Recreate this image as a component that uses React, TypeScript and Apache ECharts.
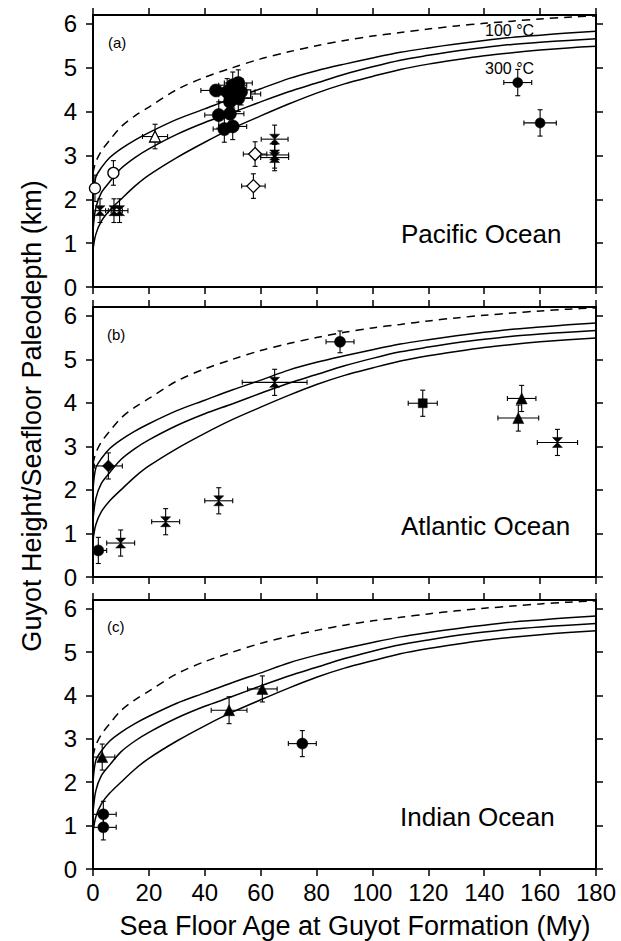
import React, { useEffect, useRef } from "react";
import * as echarts from "echarts";

// ---- model curves (same curves in all three panels) ----
const AGE = [0, 1, 3, 6, 10, 15, 20, 30, 40, 50, 60, 70, 80, 90, 100, 110, 120, 130, 140, 150, 160, 170, 180];
const DASHED = [2.6, 2.85, 3.1, 3.35, 3.65, 3.9, 4.1, 4.5, 4.78, 5.0, 5.2, 5.36, 5.5, 5.62, 5.72, 5.8, 5.88, 5.95, 6.01, 6.06, 6.11, 6.15, 6.18];
const CURVE_100 = [2.0, 2.5, 2.72, 2.95, 3.15, 3.35, 3.52, 3.82, 4.06, 4.3, 4.52, 4.75, 4.93, 5.08, 5.22, 5.35, 5.45, 5.54, 5.62, 5.69, 5.74, 5.79, 5.83];
const CURVE_MID = [1.3, 1.8, 2.15, 2.4, 2.7, 2.95, 3.15, 3.48, 3.75, 3.98, 4.22, 4.45, 4.65, 4.85, 5.02, 5.17, 5.28, 5.38, 5.46, 5.53, 5.58, 5.62, 5.66];
const CURVE_300 = [0.85, 1.2, 1.5, 1.75, 2.0, 2.3, 2.55, 2.95, 3.3, 3.62, 3.9, 4.17, 4.42, 4.63, 4.8, 4.96, 5.08, 5.18, 5.27, 5.34, 5.4, 5.45, 5.49];

// ---- guyots: [age, depth, ageError, depthError] ----
const PAC_FILLED_CIRCLE = [
  [44, 4.48, 5.4, 0], [48, 4.45, 5, 0.3], [50, 4.6, 5, 0.3], [52, 4.65, 5, 0.3], [50, 4.38, 5, 0.3],
  [52, 4.3, 5, 0.3], [49, 4.22, 4, 0.3], [45, 3.92, 5, 0.3], [49, 3.95, 5, 0.3], [47, 3.6, 4, 0.3],
  [50, 3.66, 5, 0.3], [53, 4.45, 5, 0.3],
];
const PAC_FILLED_CIRCLE_OLD = [[152, 4.66, 5, 0.3], [160, 3.74, 5.8, 0.3]];
const PAC_OPEN_CIRCLE = [[0.7, 2.25, 0, 0.3], [7.3, 2.6, 0, 0.28]];
const PAC_OPEN_TRIANGLE = [[22.2, 3.43, 4.5, 0.28]];
const PAC_OPEN_SQUARE = [[55, 4.4, 5, 0]];
const PAC_OPEN_DIAMOND = [[58, 3.03, 4.2, 0.28], [57.4, 2.3, 4.2, 0.28]];
const PAC_HOURGLASS = [[2.5, 1.74, 3, 0.27], [7.5, 1.74, 3, 0.27], [9.5, 1.74, 3, 0.27], [65, 3.37, 4.8, 0.32], [65, 3.01, 5, 0.3], [65, 2.95, 5, 0.3]];

const ATL_FILLED_CIRCLE = [[1.9, 0.61, 3, 0.3], [88.4, 5.4, 5, 0.25]];
const ATL_HOURGLASS = [[9.9, 0.78, 5, 0.3], [26, 1.27, 5, 0.3], [45, 1.75, 5, 0.3], [65, 4.47, 11.6, 0.3], [166.2, 3.09, 7.2, 0.3]];
const ATL_DIAMOND = [[5.5, 2.55, 5, 0.3]];
const ATL_SQUARE = [[118, 3.99, 5.2, 0.3]];
const ATL_TRIANGLE = [[153.4, 4.1, 5.1, 0.3], [152.2, 3.65, 7.3, 0.3]];

const IND_TRIANGLE = [[3.3, 2.58, 4.5, 0.3], [48.7, 3.66, 6.4, 0.31], [60.6, 4.15, 5.3, 0.3]];
const IND_FILLED_CIRCLE = [[3.7, 1.26, 4.6, 0.3], [3.7, 0.96, 4.6, 0.29], [74.9, 2.89, 5, 0.3]];

// ---- axes ----
const X_MIN = 0, X_MAX = 180, X_STEP = 20;
const Y_MIN = 0, Y_MAX = 6.2;
const Y_TICKS = [0, 1, 2, 3, 4, 5, 6];

const PANEL_TAGS = ["(a)", "(b)", "(c)"];
const OCEANS = ["Pacific Ocean", "Atlantic Ocean", "Indian Ocean"];
const ISOTHERMS = ["100 °C", "300 °C"];
const X_TITLE = "Sea Floor Age at Guyot Formation (My)";
const Y_TITLE = "Guyot Height/Seafloor Paleodepth (km)";

const FONT = "'Liberation Sans', Arial, Helvetica, sans-serif";
const HOURGLASS = "path://M0,0L10,0L5,5L10,10L0,10L5,5Z";

const GRIDS = [
  { left: 93, top: 15, width: 503, height: 272 },
  { left: 93, top: 307, width: 503, height: 270 },
  { left: 93, top: 600, width: 503, height: 269 },
];

type Group = { data: number[][]; symbol: string; size: number; filled: boolean };

const renderErrorBar = (_params: any, api: any) => {
  const t = api.value(0), d = api.value(1), dx = api.value(2), dy = api.value(3);
  const cap = 2.5;
  const st = { stroke: "#000", lineWidth: 1.1 };
  const children: any[] = [];
  if (dx > 0) {
    const a = api.coord([t - dx, d]);
    const b = api.coord([t + dx, d]);
    children.push({ type: "line", shape: { x1: a[0], y1: a[1], x2: b[0], y2: b[1] }, style: st });
    children.push({ type: "line", shape: { x1: a[0], y1: a[1] - cap, x2: a[0], y2: a[1] + cap }, style: st });
    children.push({ type: "line", shape: { x1: b[0], y1: b[1] - cap, x2: b[0], y2: b[1] + cap }, style: st });
  }
  if (dy > 0) {
    const a = api.coord([t, d + dy]);
    const b = api.coord([t, d - dy]);
    children.push({ type: "line", shape: { x1: a[0], y1: a[1], x2: b[0], y2: b[1] }, style: st });
    children.push({ type: "line", shape: { x1: a[0] - cap, y1: a[1], x2: a[0] + cap, y2: a[1] }, style: st });
    children.push({ type: "line", shape: { x1: b[0] - cap, y1: b[1], x2: b[0] + cap, y2: b[1] }, style: st });
  }
  return { type: "group", children };
};

function panelSeries(gi: number, groups: Group[]) {
  const pair = (ys: number[]) => AGE.map((a, i) => [a, ys[i]]);
  const line = (ys: number[], dashed: boolean) => ({
    type: "line",
    xAxisIndex: gi,
    yAxisIndex: gi,
    data: pair(ys),
    showSymbol: false,
    smooth: 0.3,
    silent: true,
    lineStyle: { color: "#000", width: 1.5, type: dashed ? [8, 6] : "solid" },
    z: 2,
  });
  const out: any[] = [line(DASHED, true), line(CURVE_100, false), line(CURVE_MID, false), line(CURVE_300, false)];
  const all: number[][] = [];
  groups.forEach((g) => g.data.forEach((p) => all.push(p)));
  out.push({
    type: "custom",
    xAxisIndex: gi,
    yAxisIndex: gi,
    data: all,
    renderItem: renderErrorBar,
    clip: true,
    silent: true,
    z: 3,
  });
  groups.forEach((g) => {
    out.push({
      type: "scatter",
      xAxisIndex: gi,
      yAxisIndex: gi,
      data: g.data.map((p) => [p[0], p[1]]),
      symbol: g.symbol,
      symbolSize: g.size,
      silent: true,
      itemStyle: g.filled
        ? { color: "#000", borderColor: "#000", borderWidth: 0.5, opacity: 1 }
        : { color: "#fff", borderColor: "#000", borderWidth: 1.3, opacity: 1 },
      z: 4,
    });
  });
  return out;
}

function xAxis(gi: number, position: string, showLabel: boolean) {
  return {
    type: "value",
    gridIndex: gi,
    position,
    min: X_MIN,
    max: X_MAX,
    interval: X_STEP,
    axisLine: { show: true, onZero: false, lineStyle: { color: "#000", width: 2 } },
    axisTick: { show: true, inside: false, length: 7, lineStyle: { color: "#000", width: 1.5 } },
    axisLabel: { show: showLabel, color: "#000", fontSize: 24, fontFamily: FONT, margin: 11 },
    splitLine: { show: false },
  };
}

function yAxis(gi: number, position: string, showLabel: boolean) {
  return {
    type: "value",
    gridIndex: gi,
    position,
    min: Y_MIN,
    max: Y_MAX,
    axisLine: { show: true, onZero: false, lineStyle: { color: "#000", width: 2 } },
    axisTick: { show: true, inside: false, length: 7, customValues: Y_TICKS, lineStyle: { color: "#000", width: 1.5 } },
    axisLabel: {
      show: showLabel,
      customValues: Y_TICKS,
      color: "#000",
      fontSize: 24,
      fontFamily: FONT,
      margin: 16,
      formatter: (v: number) => (Number.isInteger(v) ? String(v) : ""),
    },
    splitLine: { show: false },
  };
}

export default function App() {
  const ref = useRef<HTMLDivElement>(null);
  useEffect(() => {
    document.body.style.margin = "0";
    if (!ref.current) return;
    const chart = echarts.init(ref.current, null, { renderer: "svg" });

    const series = [
      ...panelSeries(0, [
        { data: PAC_HOURGLASS, symbol: HOURGLASS, size: 10, filled: true },
        { data: PAC_OPEN_CIRCLE, symbol: "circle", size: 11, filled: false },
        { data: PAC_OPEN_TRIANGLE, symbol: "triangle", size: 11, filled: false },
        { data: PAC_OPEN_SQUARE, symbol: "rect", size: 8, filled: false },
        { data: PAC_OPEN_DIAMOND, symbol: "diamond", size: 13, filled: false },
        { data: PAC_FILLED_CIRCLE, symbol: "circle", size: 13, filled: true },
        { data: PAC_FILLED_CIRCLE_OLD, symbol: "circle", size: 10, filled: true },
      ]),
      ...panelSeries(1, [
        { data: ATL_HOURGLASS, symbol: HOURGLASS, size: 10, filled: true },
        { data: ATL_FILLED_CIRCLE, symbol: "circle", size: 11, filled: true },
        { data: ATL_DIAMOND, symbol: "diamond", size: 12, filled: true },
        { data: ATL_SQUARE, symbol: "rect", size: 9, filled: true },
        { data: ATL_TRIANGLE, symbol: "triangle", size: 11, filled: true },
      ]),
      ...panelSeries(2, [
        { data: IND_TRIANGLE, symbol: "triangle", size: 11, filled: true },
        { data: IND_FILLED_CIRCLE, symbol: "circle", size: 11, filled: true },
      ]),
    ];

    const txt = (text: string, x: number, y: number, size: number, align = "left", rotation = 0) => ({
      type: "text",
      x,
      y,
      rotation,
      silent: true,
      style: { text, fill: "#000", fontSize: size, fontFamily: FONT, align, verticalAlign: "middle" },
    });

    const graphic = [
      txt(PANEL_TAGS[0], 108, 42, 15),
      txt(PANEL_TAGS[1], 107, 334, 15),
      txt(PANEL_TAGS[2], 107, 626, 15),
      txt(OCEANS[0], 401, 234, 26),
      txt(OCEANS[1], 401, 526, 26),
      txt(OCEANS[2], 400, 817, 26),
      txt(ISOTHERMS[0], 485, 30, 16),
      txt(ISOTHERMS[1], 485, 68, 16),
      txt(X_TITLE, 355, 926, 27, "center"),
      txt(Y_TITLE, 32, 416, 27, "center", Math.PI / 2),
    ];

    chart.setOption({
      animation: false,
      backgroundColor: "#fff",
      grid: GRIDS,
      xAxis: [
        xAxis(0, "bottom", false),
        xAxis(1, "bottom", false),
        xAxis(2, "bottom", true),
        xAxis(0, "top", false),
        xAxis(1, "top", false),
        xAxis(2, "top", false),
      ],
      yAxis: [
        yAxis(0, "left", true),
        yAxis(1, "left", true),
        yAxis(2, "left", true),
        yAxis(0, "right", false),
        yAxis(1, "right", false),
        yAxis(2, "right", false),
      ],
      series,
      graphic,
    });
    return () => chart.dispose();
  }, []);
  return <div ref={ref} style={{ width: 621, height: 941, position: "absolute", left: 0, top: 0 }} />;
}
